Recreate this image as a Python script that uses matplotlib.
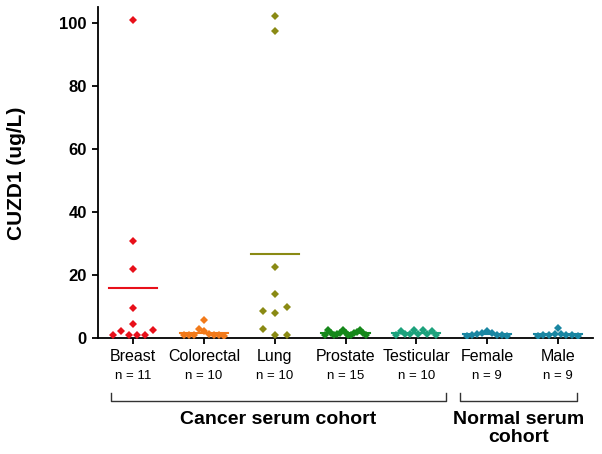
import numpy as np
import matplotlib
matplotlib.use("Agg")
import matplotlib.pyplot as plt
import matplotlib.transforms as mtransforms

plt.rcParams['font.family'] = ['Liberation Sans', 'DejaVu Sans']

# groups and values (listed left to right as they appear in each column)
groups = ['Breast', 'Colorectal', 'Lung', 'Prostate', 'Testicular', 'Female', 'Male']
n_labels = ['n = 11', 'n = 10', 'n = 10', 'n = 15', 'n = 10', 'n = 9', 'n = 9']
colors = ['#e8101a', '#f27a1a', '#8a8a14', '#16881a', '#1ca27c', '#1a86a2', '#1a86a2']

breast = [101, 30.9, 21.8, 9.5, 4.3, 0.9, 2.1, 0.9, 0.9, 0.9, 2.6]
colorectal = [0.8, 0.9, 1.0, 2.9, 5.6, 2.2, 1.3, 1.0, 0.9, 0.7]
lung = [102.2, 97.4, 22.4, 14.1, 8.5, 8.0, 9.9, 2.9, 0.9, 0.9]
prostate = [1.0, 2.4, 1.6, 1.0, 1.2, 1.7, 2.4, 1.6, 1.0, 1.1, 1.5, 1.8, 2.5, 1.5, 1.0]
testicular = [1.0, 2.3, 1.2, 1.4, 2.4, 1.3, 2.4, 1.2, 2.2, 1.0]
female = [0.7, 1.0, 1.2, 1.6, 2.2, 1.5, 1.1, 0.9, 0.7]
male = [0.7, 1.0, 0.8, 1.3, 3.1, 1.4, 0.9, 1.0, 0.6]
data = [breast, colorectal, lung, prostate, testicular, female, male]

yticks = [0, 20, 40, 60, 80, 100]
cohorts = [('Cancer serum cohort', 0, 4), ('Normal serum\ncohort', 5, 6)]


# scatter layout: values close together share a row and are spread sideways
def spread(vals, band=2.4, half=0.283, gap=0.17):
    vals = np.asarray(vals, dtype=float)
    offs = np.zeros(len(vals))
    order = np.argsort(vals, kind='stable')
    bins, cur = [], [order[0]]
    for i in order[1:]:
        if vals[i] - vals[cur[0]] > band:
            bins.append(cur)
            cur = [i]
        else:
            cur.append(i)
    bins.append(cur)
    for b in bins:
        b = sorted(b)
        m = len(b)
        if m == 1:
            continue
        sp = min(gap, 2 * half / (m - 1))
        for j, i in enumerate(b):
            offs[i] = (j - (m - 1) / 2) * sp
    return offs


fig = plt.figure(figsize=(6.02, 4.54), dpi=100)
ax = fig.add_axes([98 / 602, 1 - 338 / 454, 495 / 602, 331 / 454])

for i, (vals, c) in enumerate(zip(data, colors)):
    vals = np.array(vals, dtype=float)
    xs = i + spread(vals)
    ax.plot([i - 0.34, i + 0.34], [vals.mean()] * 2, color=c, lw=1.5, zorder=2)
    ax.plot(xs, vals, linestyle='none', marker='D', ms=3.9, mew=0,
            color=c, zorder=3)

ax.set_xlim(-0.5, 6.5)
ax.set_ylim(0, 105)
ax.set_yticks(yticks)
ax.set_yticklabels([str(t) for t in yticks], fontsize=12, fontweight='bold')
ax.set_xticks(range(len(groups)))
ax.set_xticklabels(groups, fontsize=11.5)
ax.tick_params(axis='both', direction='out', length=4, width=1.3, pad=4)
for s in ['top', 'right']:
    ax.spines[s].set_visible(False)
for s in ['left', 'bottom']:
    ax.spines[s].set_linewidth(1.3)

trans = mtransforms.blended_transform_factory(ax.transData, fig.transFigure)
for i, lab in enumerate(n_labels):
    ax.text(i, 1 - 376 / 454, lab, transform=trans, ha='center', va='center', fontsize=9.5)

# cohort brackets
y_br = 1 - 400.5 / 454
y_tk = 1 - 393 / 454
for name, a, b in cohorts:
    x0 = a - 0.32 if a == 0 else a - 0.38
    x1 = b + 0.42 if a == 0 else b + 0.27
    ax.plot([x0, x0, x1, x1], [y_tk, y_br, y_br, y_tk], transform=trans,
            color='#333333', lw=1.0, clip_on=False)
    ax.text((x0 + x1) / 2, 1 - 411 / 454, name, transform=trans, ha='center', va='top',
            fontsize=14, fontweight='bold', linespacing=1.05)

fig.text(17 / 602, 1 - 173 / 454, 'CUZD1 (ug/L)', rotation=90, ha='center', va='center',
         fontsize=15, fontweight='bold')

fig.savefig('out.png', dpi=100)
